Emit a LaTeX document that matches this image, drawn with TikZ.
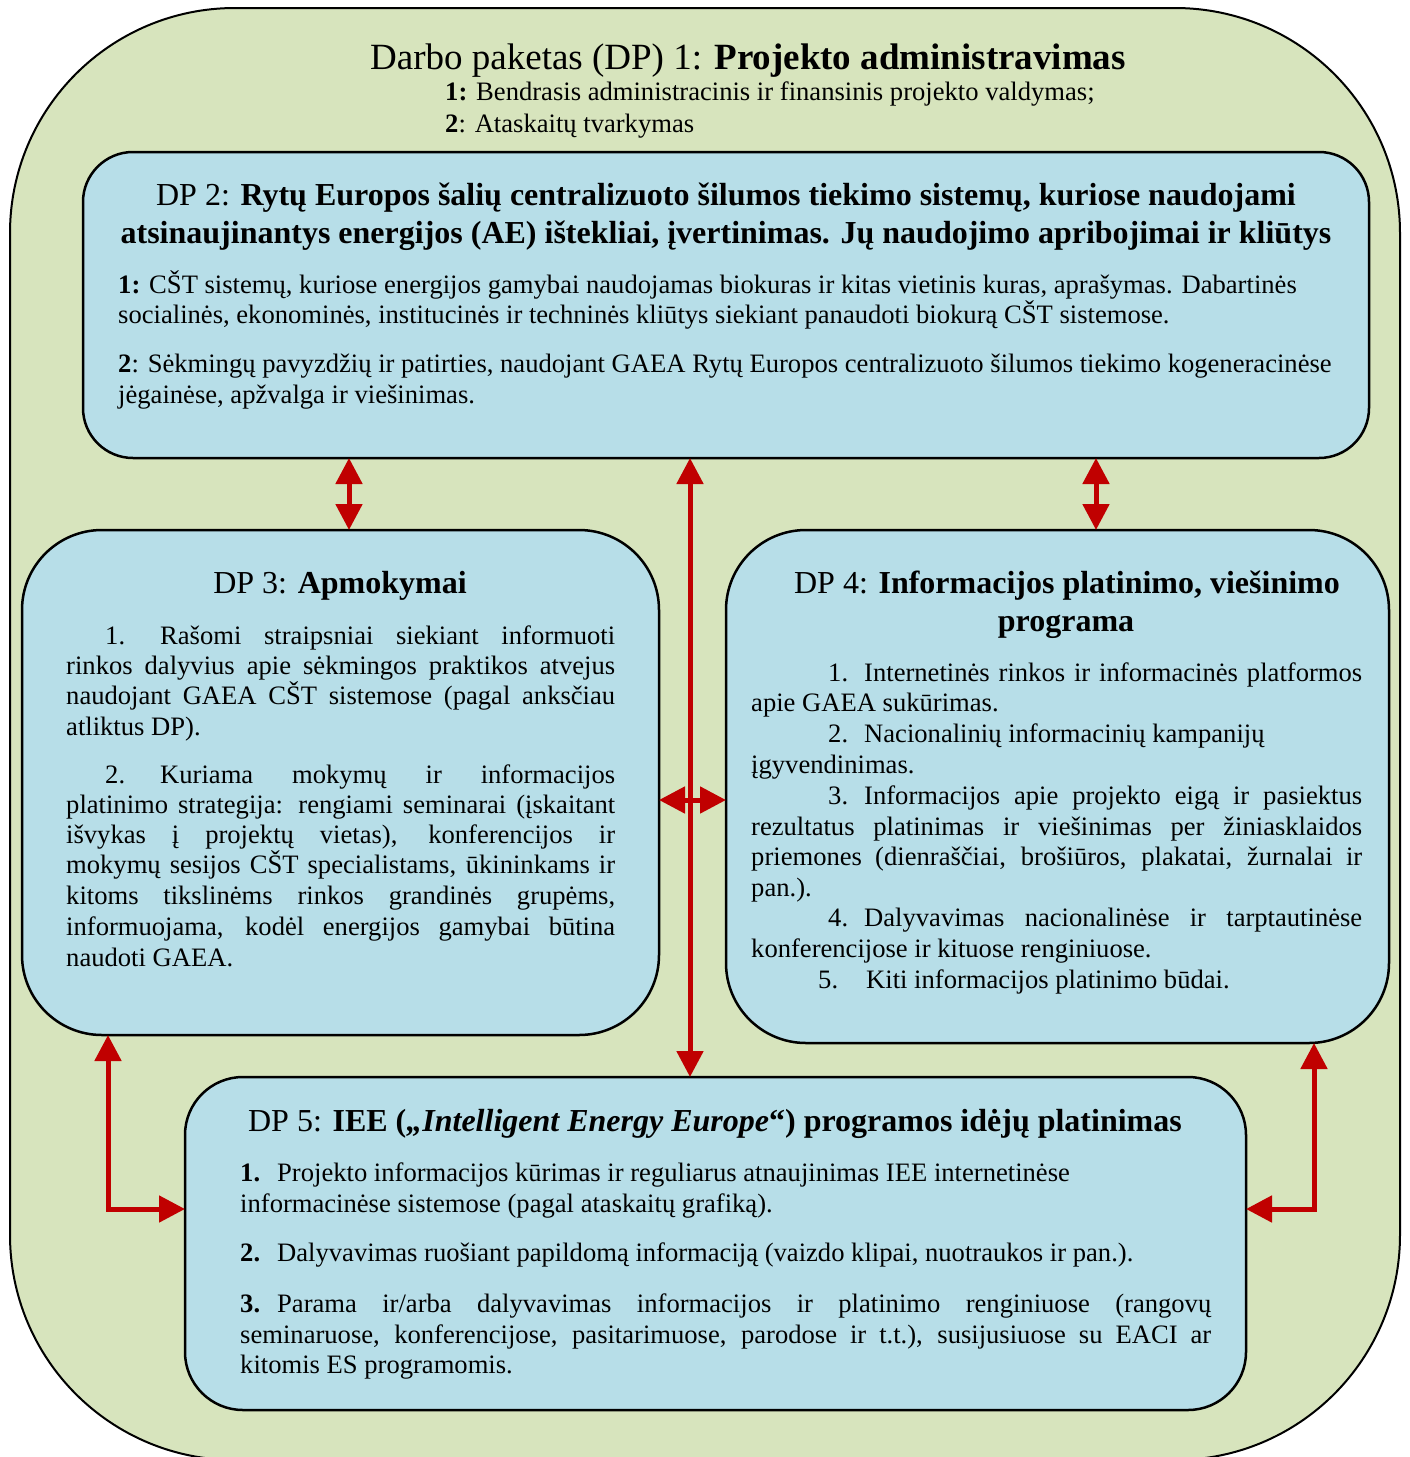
\documentclass[tikz,border=0pt]{standalone}
\usepackage{fontspec}
\setmainfont{Liberation Serif}
\usetikzlibrary{arrows.meta}
\definecolor{gfill}{HTML}{D7E4BD}
\definecolor{bfill}{HTML}{B7DEE8}
\definecolor{ared}{HTML}{C00000}
\newcommand\bodysz{\fontsize{26.6}{30.5}\selectfont}
\newcommand\ttlsz{\fontsize{32}{38}\selectfont}
\newcommand\jl[2]{\makebox[#1][s]{#2}}
\newcommand\lab[2]{\makebox[#1][l]{#2}}
\tikzset{
  wpbox/.style={draw=black, line width=2.5pt, fill=bfill, rounded corners=#1,
    anchor=north west, inner sep=0pt, outer sep=0pt},
  txt/.style={anchor=base west, inner sep=0pt, font=\bodysz},
  ttl/.style={anchor=base, inner sep=0pt, font=\ttlsz},
  arr/.style={draw=ared, line width=5pt,
    {Triangle[width=26pt,length=26pt]}-{Triangle[width=26pt,length=26pt]}},
}
\begin{document}
\begin{tikzpicture}[x=1pt,y=-1pt]
\useasboundingbox (0,0) rectangle (1410,1457);
\clip (0,0) rectangle (1410,1457);
% outer container
\draw[line width=2pt, fill=gfill, rounded corners=225pt] (10,8) rectangle (1400,1460);

% header
\node[anchor=base, inner sep=0pt, font=\fontsize{37}{42}\selectfont] (h1) at (748,69)
  {Darbo paketas (DP) 1: \textbf{Projekto administravimas}};
\node[txt] (h2) at (445,100) {\textbf{1:} Bendrasis administracinis ir finansinis projekto valdymas;};
\node[txt] (h3) at (445,132) {\textbf{2}: Ataskaitų tvarkymas};

% boxes
\node[wpbox=50pt, minimum width=1286pt, minimum height=306pt] (dp2) at (83,152) {};
\node[wpbox=80pt, minimum width=637pt, minimum height=505pt] (dp3) at (22,530) {};
\node[wpbox=80pt, minimum width=663pt, minimum height=513pt] (dp4) at (726,530) {};
\node[wpbox=58pt, minimum width=1061pt, minimum height=333pt] (dp5) at (185,1077) {};

% DP2 text
\node[ttl] (t2a) at (726,205) {DP 2: \textbf{Rytų Europos šalių centralizuoto šilumos tiekimo sistemų, kuriose naudojami}};
\node[ttl] (t2b) at (726,243) {\textbf{atsinaujinantys energijos (AE) ištekliai, įvertinimas. Jų naudojimo apribojimai ir kliūtys}};
\node[txt] (b2a) at (118,293) {\textbf{1:} CŠT sistemų, kuriose energijos gamybai naudojamas biokuras ir kitas vietinis kuras, aprašymas. Dabartinės};
\node[txt] (b2b) at (118,323) {socialinės, ekonominės, institucinės ir techninės kliūtys siekiant panaudoti biokurą CŠT sistemose.};
\node[txt] (b2c) at (118,372) {\textbf{2}: Sėkmingų pavyzdžių ir patirties, naudojant GAEA Rytų Europos centralizuoto šilumos tiekimo kogeneracinėse};
\node[txt] (b2d) at (118,403) {jėgainėse, apžvalga ir viešinimas.};

% DP3 text
\node[ttl] (t3) at (340,593) {DP 3: \textbf{Apmokymai}};
\node[txt] (b3a) at (105,644) {\jl{510pt}{\lab{55pt}{1.}Rašomi straipsniai siekiant informuoti}};
\node[txt] (b3b) at (66,674) {\jl{549pt}{rinkos dalyvius apie sėkmingos praktikos atvejus}};
\node[txt] (b3c) at (66,704) {\jl{549pt}{naudojant GAEA CŠT sistemose (pagal anksčiau}};
\node[txt] (b3d) at (66,735) {atliktus DP).};
\node[txt] (b3e) at (105,783) {\jl{510pt}{\lab{55pt}{2.}Kuriama mokymų ir informacijos}};
\node[txt] (b3f) at (66,813) {\jl{549pt}{platinimo strategija: rengiami seminarai (įskaitant}};
\node[txt] (b3g) at (66,843) {\jl{549pt}{išvykas į projektų vietas), konferencijos ir}};
\node[txt] (b3h) at (66,873) {\jl{549pt}{mokymų sesijos CŠT specialistams, ūkininkams ir}};
\node[txt] (b3i) at (66,904) {\jl{549pt}{kitoms tikslinėms rinkos grandinės grupėms,}};
\node[txt] (b3j) at (66,935) {\jl{549pt}{informuojama, kodėl energijos gamybai būtina}};
\node[txt] (b3k) at (66,966) {naudoti GAEA.};

% DP4 text
\node[ttl] (t4a) at (1067,593) {DP 4: \textbf{Informacijos platinimo, viešinimo}};
\node[ttl] (t4b) at (1066,631) {\textbf{programa}};
\node[txt] (b4a) at (828,681) {\jl{534pt}{\lab{36pt}{1.}Internetinės rinkos ir informacinės platformos}};
\node[txt] (b4b) at (751,711) {apie GAEA sukūrimas.};
\node[txt] (b4c) at (828,742) {\lab{36pt}{2.}Nacionalinių informacinių kampanijų};
\node[txt] (b4d) at (751,773) {įgyvendinimas.};
\node[txt] (b4e) at (828,804) {\jl{534pt}{\lab{36pt}{3.}Informacijos apie projekto eigą ir pasiektus}};
\node[txt] (b4f) at (751,835) {\jl{611pt}{rezultatus platinimas ir viešinimas per žiniasklaidos}};
\node[txt] (b4g) at (751,865) {\jl{611pt}{priemones (dienraščiai, brošiūros, plakatai, žurnalai ir}};
\node[txt] (b4h) at (751,896) {pan.).};
\node[txt] (b4i) at (828,926) {\jl{534pt}{\lab{36pt}{4.}Dalyvavimas nacionalinėse ir tarptautinėse}};
\node[txt] (b4j) at (751,957) {konferencijose ir kituose renginiuose.};
\node[txt] (b4k) at (818,988) {\lab{48pt}{5.}Kiti informacijos platinimo būdai.};

% DP5 text
\node[ttl] (t5) at (715,1131) {DP 5: \textbf{IEE (\textit{„Intelligent Energy Europe}“) programos idėjų platinimas}};
\node[txt] (b5a) at (240,1181) {\lab{37pt}{\textbf{1.}}Projekto informacijos kūrimas ir reguliarus atnaujinimas IEE internetinėse};
\node[txt] (b5b) at (240,1212) {informacinėse sistemose (pagal ataskaitų grafiką).};
\node[txt] (b5c) at (240,1261) {\lab{37pt}{\textbf{2.}}Dalyvavimas ruošiant papildomą informaciją (vaizdo klipai, nuotraukos ir pan.).};
\node[txt] (b5d) at (240,1312) {\jl{971pt}{\lab{37pt}{\textbf{3.}}Parama ir/arba dalyvavimas informacijos ir platinimo renginiuose (rangovų}};
\node[txt] (b5e) at (240,1343) {\jl{971pt}{seminaruose, konferencijose, pasitarimuose, parodose ir t.t.), susijusiuose su EACI ar}};
\node[txt] (b5f) at (240,1373) {kitomis ES programomis.};

% connector helper coordinates
\coordinate (xa) at (349,0);
\coordinate (xb) at (1096,0);
\coordinate (xc) at (690,0);
\coordinate (hy) at (0,800);
\coordinate (lc) at (108,1209);
\coordinate (rc) at (1314,1209);

% connectors
\draw[arr] (dp2.south -| xa) -- (dp3.north -| xa);
\draw[arr] (dp2.south -| xb) -- (dp4.north -| xb);
\draw[arr] (dp2.south -| xc) -- (dp5.north -| xc);
\draw[arr] (dp3.east |- hy) -- (dp4.west |- hy);
\draw[arr] (dp3.south -| lc) |- (dp5.west |- lc);
\draw[arr] (dp4.south -| rc) |- (dp5.east |- rc);
\end{tikzpicture}
\end{document}
